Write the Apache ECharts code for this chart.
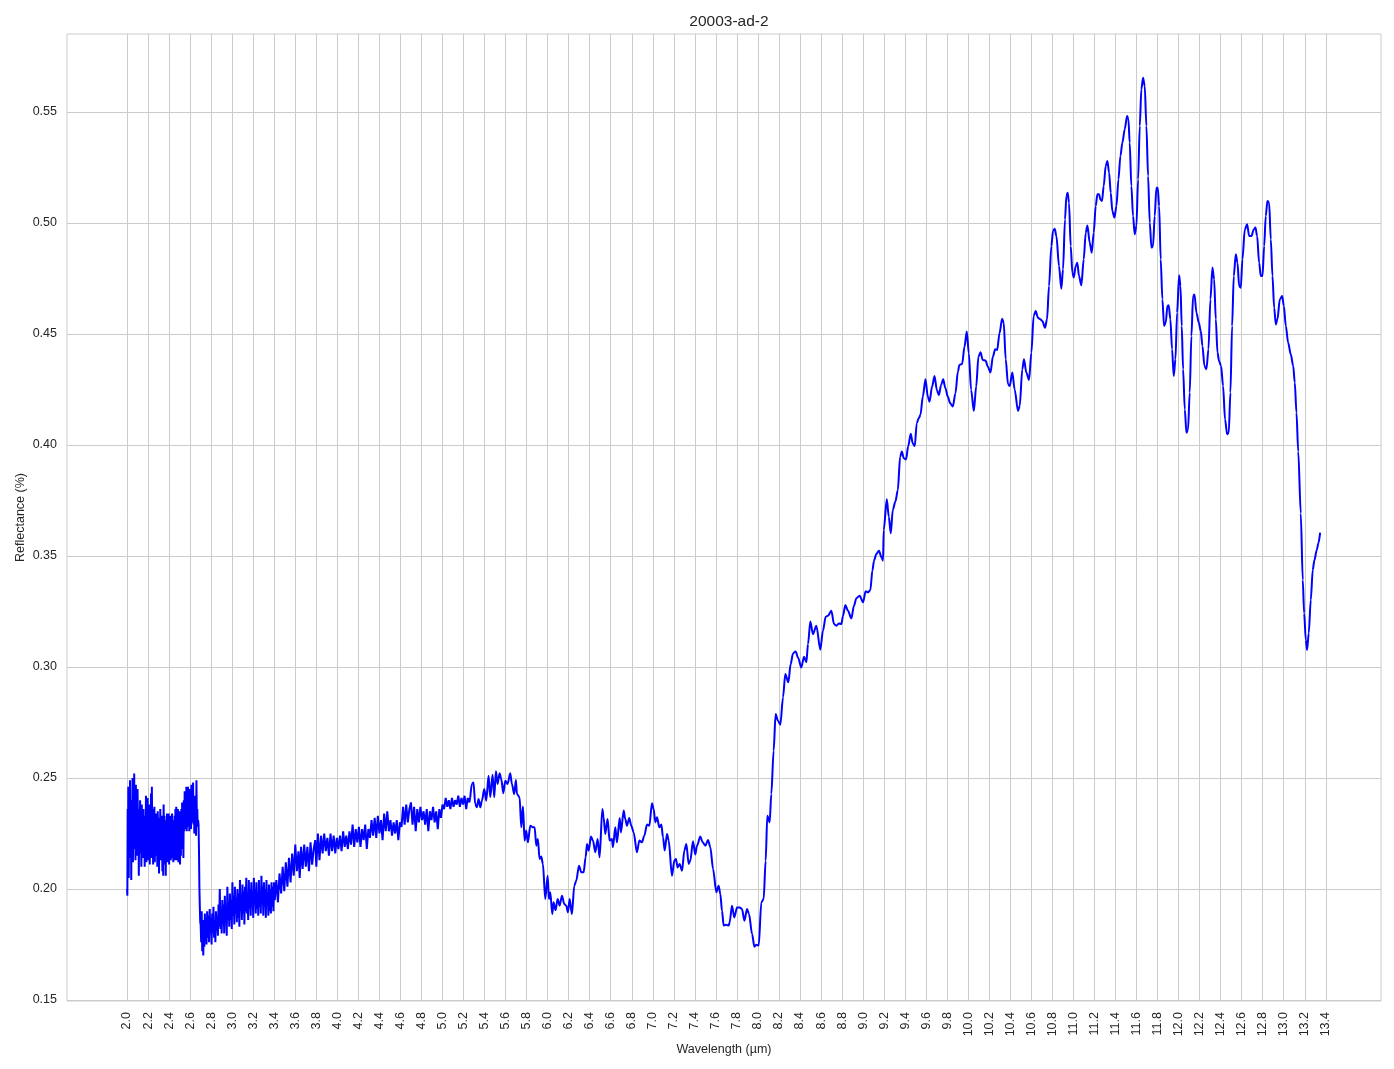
<!DOCTYPE html>
<html>
<head>
<meta charset="utf-8">
<script src="https://cdn.jsdelivr.net/npm/echarts@6/dist/echarts.min.js"></script>
<style>
html,body{margin:0;padding:0;background:#fff;}
#chart{width:1394px;height:1069px;}
</style>
</head>
<body>
<div id="chart"></div>
<script>
// ---- tick labels ----
const xTicks = [2.0,2.2,2.4,2.6,2.8,3.0,3.2,3.4,3.6,3.8,4.0,4.2,4.4,4.6,4.8,5.0,5.2,5.4,5.6,5.8,6.0,6.2,6.4,6.6,6.8,7.0,7.2,7.4,7.6,7.8,8.0,8.2,8.4,8.6,8.8,9.0,9.2,9.4,9.6,9.8,10.0,10.2,10.4,10.6,10.8,11.0,11.2,11.4,11.6,11.8,12.0,12.2,12.4,12.6,12.8,13.0,13.2,13.4];
const yTicks = [0.15,0.20,0.25,0.30,0.35,0.40,0.45,0.50,0.55];

// ---- spectrum: [wavelength µm, reflectance] ----
const noisyHigh = [
[2.000,0.200],[2.003,0.197],[2.006,0.236],[2.009,0.212],[2.012,0.246],[2.016,0.205],[2.020,0.244],[2.024,0.226],[2.028,0.249],[2.032,0.214],
[2.036,0.240],[2.040,0.204],[2.044,0.238],[2.048,0.221],[2.052,0.250],[2.056,0.212],[2.060,0.246],[2.064,0.226],[2.068,0.252],[2.072,0.218],
[2.076,0.243],[2.080,0.213],[2.084,0.247],[2.088,0.222],[2.092,0.240],[2.096,0.215],[2.100,0.245],[2.104,0.228],[2.108,0.236],[2.112,0.206],
[2.116,0.232],[2.120,0.216],[2.124,0.240],[2.128,0.219],[2.132,0.235],[2.136,0.210],[2.140,0.238],[2.144,0.221],[2.148,0.231],[2.152,0.214],
[2.156,0.236],[2.160,0.218],[2.164,0.229],[2.168,0.210],[2.172,0.233],[2.176,0.220],[2.180,0.242],[2.184,0.212],[2.188,0.236],[2.192,0.225],
[2.196,0.241],[2.200,0.213],[2.204,0.234],[2.208,0.222],[2.212,0.238],[2.216,0.211],[2.220,0.231],[2.224,0.218],[2.228,0.243],[2.232,0.214],
[2.236,0.246],[2.240,0.222],[2.244,0.236],[2.248,0.211],[2.252,0.232],[2.256,0.219],[2.260,0.237],[2.264,0.212],[2.268,0.229],[2.272,0.217],
[2.276,0.234],[2.280,0.215],[2.284,0.231],[2.288,0.210],[2.292,0.235],[2.296,0.221],[2.300,0.229],[2.304,0.207],[2.308,0.232],[2.312,0.218],
[2.316,0.236],[2.320,0.213],[2.324,0.228],[2.328,0.216],[2.332,0.233],[2.336,0.208],[2.340,0.230],[2.344,0.206],[2.348,0.238],[2.352,0.219],
[2.356,0.233],[2.360,0.211],[2.364,0.228],[2.368,0.206],[2.372,0.231],[2.376,0.215],[2.380,0.234],[2.384,0.212],[2.388,0.230],[2.392,0.218],
[2.396,0.234],[2.400,0.211],[2.404,0.229],[2.408,0.215],[2.412,0.233],[2.416,0.213],[2.420,0.231],[2.424,0.217],[2.428,0.234],[2.432,0.214],
[2.436,0.227],[2.440,0.212],[2.444,0.231],[2.448,0.216],[2.452,0.233],[2.456,0.213],[2.460,0.236],[2.464,0.219],[2.468,0.237],[2.472,0.213],
[2.476,0.232],[2.480,0.218],[2.484,0.236],[2.488,0.212],[2.492,0.230],[2.496,0.220],[2.500,0.235],[2.504,0.211],[2.508,0.229],[2.512,0.215],
[2.516,0.236],[2.520,0.218],[2.524,0.239],[2.528,0.222],[2.532,0.234],[2.536,0.214],[2.540,0.240],[2.544,0.226],[2.548,0.244],[2.552,0.227],
[2.556,0.242],[2.560,0.229],[2.564,0.246],[2.568,0.226],[2.572,0.240],[2.576,0.228],[2.580,0.246],[2.584,0.230],[2.588,0.243],[2.592,0.226],
[2.596,0.245],[2.600,0.229],[2.604,0.241],[2.608,0.227],[2.612,0.247],[2.616,0.230],[2.620,0.244],[2.624,0.232],[2.628,0.248],[2.632,0.229],
[2.636,0.240],[2.640,0.225],[2.644,0.242],[2.648,0.230],[2.652,0.236],[2.656,0.224],[2.660,0.249],[2.664,0.230],[2.668,0.236],[2.672,0.228],
[2.676,0.231],[2.680,0.229],[2.684,0.218],[2.688,0.201],[2.692,0.192],[2.696,0.185]
];
const noisyLow = [
[2.700,0.184],[2.705,0.176],[2.710,0.190],[2.715,0.172],[2.720,0.186],[2.725,0.170],[2.730,0.183],[2.735,0.174],[2.740,0.189],[2.745,0.177],
[2.750,0.185],[2.756,0.175],[2.762,0.190],[2.768,0.178],[2.774,0.188],[2.780,0.176],[2.786,0.191],[2.792,0.181],[2.798,0.187],[2.804,0.175],
[2.810,0.189],[2.816,0.180],[2.822,0.192],[2.828,0.178],[2.834,0.186],[2.840,0.176],[2.846,0.190],[2.852,0.181],[2.858,0.188],[2.864,0.179],
[2.870,0.193],[2.876,0.183],[2.882,0.200],[2.888,0.182],[2.894,0.191],[2.900,0.180],[2.906,0.195],[2.912,0.184],[2.918,0.193],[2.924,0.180],
[2.930,0.197],[2.936,0.185],[2.942,0.191],[2.948,0.179],[2.954,0.201],[2.960,0.186],[2.966,0.194],[2.972,0.183],[2.978,0.198],[2.984,0.186],
[2.990,0.195],[2.996,0.182],[3.002,0.203],[3.008,0.188],[3.014,0.197],[3.020,0.184],[3.026,0.201],[3.032,0.189],[3.038,0.196],[3.044,0.185],
[3.050,0.200],[3.056,0.187],[3.062,0.198],[3.068,0.183],[3.074,0.204],[3.080,0.190],[3.086,0.197],[3.092,0.186],[3.098,0.202],[3.104,0.189],
[3.110,0.199],[3.116,0.184],[3.122,0.201],[3.128,0.190],[3.134,0.205],[3.140,0.189],[3.146,0.198],[3.152,0.186],[3.158,0.204],[3.164,0.191],
[3.170,0.200],[3.176,0.188],[3.182,0.203],[3.188,0.192],[3.194,0.199],[3.200,0.187],[3.206,0.205],[3.212,0.193],[3.218,0.200],[3.224,0.189],
[3.230,0.203],[3.236,0.191],[3.242,0.198],[3.248,0.188],[3.254,0.204],[3.260,0.192],[3.266,0.199],[3.272,0.189],[3.278,0.206],[3.284,0.193],
[3.290,0.201],[3.296,0.188],[3.302,0.203],[3.308,0.192],[3.314,0.200],[3.320,0.187],[3.326,0.204],[3.332,0.193],[3.338,0.198],[3.344,0.188],
[3.350,0.202],[3.356,0.190],[3.362,0.200],[3.368,0.189],[3.374,0.203],[3.380,0.192],[3.386,0.201],[3.392,0.190],[3.398,0.203]
];
const risingSlope = [
[3.405,0.195],[3.420,0.204],[3.435,0.194],[3.450,0.207],[3.465,0.198],[3.480,0.210],[3.495,0.199],[3.510,0.212],[3.525,0.201],[3.540,0.214],
[3.555,0.203],[3.570,0.216],[3.585,0.206],[3.600,0.220],[3.615,0.208],[3.630,0.217],[3.642,0.205],[3.655,0.219],[3.670,0.209],[3.685,0.220],
[3.700,0.210],[3.715,0.219],[3.730,0.208],[3.745,0.221],[3.760,0.211],[3.775,0.218],[3.790,0.222],[3.800,0.210],[3.815,0.225],[3.830,0.213],
[3.845,0.224],[3.860,0.216],[3.875,0.225],[3.890,0.217],[3.905,0.223],[3.920,0.215],[3.935,0.225],[3.950,0.217],[3.965,0.224],[3.980,0.216],
[3.995,0.223],[4.010,0.218],[4.025,0.224],[4.040,0.217],[4.055,0.226],[4.070,0.219],[4.085,0.224],[4.100,0.218],[4.115,0.226],[4.130,0.220],
[4.145,0.229],[4.160,0.219],[4.175,0.227],[4.190,0.221],[4.205,0.228],[4.220,0.219],[4.235,0.227],[4.250,0.222],[4.265,0.229],[4.280,0.218],
[4.295,0.227],[4.310,0.223],[4.325,0.231],[4.340,0.224],[4.355,0.232],[4.370,0.223],[4.385,0.233],[4.400,0.225],[4.415,0.231],[4.430,0.222],
[4.445,0.234],[4.460,0.226],[4.475,0.235],[4.490,0.226],[4.505,0.231],[4.520,0.224],[4.535,0.230],[4.550,0.225],[4.565,0.231],[4.580,0.222],
[4.595,0.230],[4.610,0.228],[4.625,0.237],[4.640,0.229],[4.655,0.238],[4.670,0.230],[4.685,0.236],[4.700,0.239],[4.715,0.229],[4.730,0.237],
[4.745,0.226],[4.760,0.236],[4.775,0.230],[4.790,0.237],[4.805,0.231],[4.820,0.235],[4.835,0.229],[4.850,0.236],[4.865,0.226],[4.880,0.235],
[4.895,0.231],[4.910,0.237],[4.925,0.230],[4.940,0.235],[4.955,0.227],[4.970,0.236],[4.985,0.232],[5.000,0.238],[5.015,0.236],[5.030,0.241],
[5.045,0.237],[5.060,0.240],[5.075,0.236],[5.090,0.241],[5.105,0.237],[5.120,0.240],[5.135,0.238],[5.150,0.242],[5.165,0.237],[5.180,0.241],
[5.195,0.238],[5.210,0.242],[5.225,0.236],[5.240,0.241],[5.255,0.239],[5.264,0.2413]
];
const midBand = [
[5.264,0.2413],[5.279,0.2473],[5.295,0.2480],[5.311,0.2383],[5.327,0.2368],[5.343,0.2405],[5.359,0.2368],[5.375,0.2398],[5.397,0.2450],[5.416,0.2398],
[5.438,0.2510],[5.454,0.2413],[5.476,0.2515],[5.492,0.2413],[5.508,0.2530],[5.524,0.2473],[5.543,0.2521],[5.559,0.2495],[5.578,0.2431],[5.597,0.2488],
[5.619,0.2473],[5.644,0.2521],[5.660,0.2473],[5.682,0.2428],[5.698,0.2491],[5.708,0.2428],[5.733,0.2413],[5.749,0.2278],[5.765,0.2371],[5.781,0.2218],
[5.796,0.2263],[5.812,0.2210],[5.835,0.2285],[5.860,0.2278],[5.876,0.2278],[5.892,0.2195],[5.907,0.2225],[5.923,0.2135],[5.939,0.2146],[5.955,0.2113],
[5.977,0.1955],[6.000,0.2060],[6.012,0.1955],[6.025,0.1985],[6.044,0.1887],[6.056,0.1940],[6.075,0.1905],[6.095,0.1955],[6.114,0.1925],[6.136,0.1970],
[6.158,0.1932],[6.177,0.1925],[6.193,0.1895],[6.209,0.1955],[6.231,0.1887],[6.253,0.2015],[6.272,0.2037],[6.298,0.2105],[6.320,0.2075],[6.342,0.2075],
[6.361,0.2143],[6.374,0.2203],[6.390,0.2173],[6.412,0.2236],[6.431,0.2218],[6.453,0.2165],[6.475,0.2225],[6.494,0.2143],[6.520,0.2360],[6.532,0.2323],
[6.548,0.2248],[6.570,0.2315],[6.589,0.2218],[6.611,0.2225],[6.621,0.2188],[6.643,0.2278],[6.659,0.2210],[6.685,0.2320],[6.697,0.2255],[6.723,0.2353],
[6.738,0.2315],[6.754,0.2285],[6.776,0.2320],[6.795,0.2285],[6.818,0.2255],[6.849,0.2165],[6.872,0.2218],[6.897,0.2210],[6.919,0.2240],[6.945,0.2290],
[6.967,0.2285],[6.992,0.2386],[7.008,0.2360],[7.024,0.2300],[7.040,0.2323],[7.062,0.2278],[7.081,0.2290],[7.097,0.2233],[7.113,0.2173],[7.135,0.2248],
[7.151,0.2218],[7.182,0.2060],[7.205,0.2128],[7.220,0.2135],[7.236,0.2097],[7.255,0.2113],[7.278,0.2082],[7.300,0.2173],[7.319,0.2203],[7.341,0.2113],
[7.357,0.2128],[7.382,0.2215],[7.404,0.2155],[7.420,0.2195],[7.452,0.2236],[7.474,0.2210],[7.500,0.2195],[7.525,0.2221],[7.547,0.2188],[7.573,0.2090],
[7.604,0.1985],[7.626,0.2015],[7.642,0.1977],[7.658,0.1902],[7.674,0.1835],[7.696,0.1839],[7.721,0.1835],[7.731,0.1850],[7.753,0.1925],[7.775,0.1872],
[7.801,0.1917],[7.826,0.1917],[7.848,0.1910],[7.871,0.1857],[7.896,0.1910],[7.915,0.1887],[7.944,0.1797],[7.966,0.1740],[7.985,0.1749],[8.007,0.1745]
];
const steepRise = [
[8.032,0.1940],[8.054,0.1955],[8.073,0.2127],[8.089,0.2330],[8.111,0.2300],[8.127,0.2428],[8.149,0.2623],[8.168,0.2788],[8.190,0.2758],[8.213,0.2740],
[8.238,0.2863],[8.260,0.2968],[8.289,0.2931],[8.311,0.3013],[8.333,0.3061],[8.358,0.3070],[8.381,0.3043],[8.412,0.2998],[8.438,0.3046],[8.460,0.3021],
[8.476,0.3103],[8.498,0.3205],[8.523,0.3148],[8.555,0.3186],[8.593,0.3078],[8.618,0.3163],[8.644,0.3226],[8.666,0.3231],[8.698,0.3253],[8.723,0.3193],
[8.745,0.3186],[8.771,0.3196],[8.793,0.3193],[8.809,0.3231],[8.831,0.3279],[8.856,0.3253],[8.888,0.3219],[8.913,0.3276],[8.936,0.3310],[8.967,0.3321],
[8.999,0.3291],[9.024,0.3341],[9.047,0.3336],[9.069,0.3347],[9.088,0.3434],[9.104,0.3479],[9.126,0.3509],[9.151,0.3524],[9.174,0.3494],[9.189,0.3479]
];
const upperPlateau = [
[9.196,0.3617],[9.225,0.3755],[9.244,0.3677],[9.263,0.3602],[9.282,0.3707],[9.307,0.3745],[9.330,0.3797],[9.352,0.3947],[9.368,0.3970],[9.387,0.3940],
[9.409,0.3935],[9.428,0.3993],[9.453,0.4050],[9.472,0.4007],[9.491,0.3995],[9.510,0.4098],[9.529,0.4120],[9.545,0.4135],[9.568,0.4218],[9.593,0.4296],
[9.615,0.4218],[9.631,0.4195],[9.656,0.4263],[9.679,0.4311],[9.701,0.4248],[9.720,0.4225],[9.742,0.4270],[9.761,0.4296],[9.783,0.4255],[9.805,0.4218],
[9.828,0.4188],[9.853,0.4173],[9.878,0.4233],[9.901,0.4330],[9.916,0.4360],[9.942,0.4365],[9.964,0.4443],[9.986,0.4511],[10.005,0.4413],[10.027,0.4248],
[10.053,0.4153],[10.075,0.4263],[10.097,0.4398],[10.116,0.4417],[10.138,0.4383],[10.164,0.4380],[10.186,0.4353],[10.211,0.4326],[10.234,0.4398],[10.256,0.4431],
[10.275,0.4428],[10.297,0.4503],[10.322,0.4568],[10.337,0.4551],[10.356,0.4386],[10.378,0.4273],[10.394,0.4266],[10.419,0.4326],[10.441,0.4250],[10.473,0.4153],
[10.489,0.4175],[10.514,0.4341],[10.530,0.4386],[10.552,0.4326],[10.578,0.4293],[10.600,0.4416],[10.622,0.4581],[10.641,0.4603],[10.663,0.4573],[10.685,0.4566],
[10.704,0.4558],[10.730,0.4528],[10.749,0.4566],[10.768,0.4716],[10.790,0.4896],[10.806,0.4964],[10.822,0.4974],[10.838,0.4941],[10.863,0.4806],[10.885,0.4704],
[10.901,0.4791],[10.920,0.5016],[10.933,0.5121],[10.945,0.5136],[10.958,0.5091],[10.974,0.4896],[10.990,0.4776],[11.003,0.4754],[11.022,0.4806],[11.037,0.4821],
[11.053,0.4761],[11.075,0.4719],[11.098,0.4836],[11.117,0.4956],[11.133,0.4989],[11.155,0.4911],[11.174,0.4866],[11.193,0.4956],[11.212,0.5076],[11.228,0.5129],
[11.244,0.5129],[11.256,0.5106],[11.272,0.5099],[11.288,0.5166],[11.307,0.5257],[11.323,0.5279],[11.339,0.5227],[11.355,0.5136],[11.370,0.5054],[11.390,0.5024]
];
const peakRegion = [
[11.409,0.5076],[11.428,0.5196],[11.447,0.5302],[11.466,0.5362],[11.488,0.5422],[11.510,0.5482],[11.523,0.5467],[11.535,0.5362],[11.551,0.5166],[11.567,0.5031],
[11.583,0.4949],[11.599,0.4986],[11.615,0.5196],[11.631,0.5437],[11.646,0.5602],[11.662,0.5654],[11.678,0.5617],[11.694,0.5437],[11.710,0.5211],[11.726,0.5001],
[11.742,0.4889],[11.757,0.4896],[11.773,0.5031],[11.789,0.5159],[11.802,0.5159],[11.815,0.5076],[11.830,0.4836],[11.846,0.4656],[11.862,0.4536],[11.878,0.4551],
[11.894,0.4626],[11.906,0.4629],[11.922,0.4566],[11.938,0.4431],[11.954,0.4311],[11.970,0.4386],[11.986,0.4596],[12.005,0.4764],[12.018,0.4716],[12.030,0.4536],
[12.043,0.4341],[12.059,0.4160],[12.075,0.4055],[12.090,0.4070],[12.106,0.4236],[12.122,0.4491],[12.138,0.4671],[12.151,0.4678],[12.170,0.4596],[12.192,0.4551],
[12.211,0.4513],[12.227,0.4446],[12.246,0.4356],[12.265,0.4341],[12.284,0.4431],[12.303,0.4656],[12.322,0.4799],[12.338,0.4746],[12.354,0.4566],[12.370,0.4416],
[12.385,0.4378],[12.404,0.4356],[12.423,0.4266],[12.442,0.4115],[12.462,0.4048],[12.477,0.4055],[12.493,0.4236],[12.509,0.4536],[12.525,0.4761],[12.544,0.4859],
[12.560,0.4821],[12.576,0.4716],[12.592,0.4708],[12.607,0.4836],[12.630,0.4971],[12.652,0.4994],[12.671,0.4941],[12.693,0.4941],[12.715,0.4971],[12.731,0.4979],
[12.747,0.4941],[12.766,0.4821],[12.782,0.4761],[12.798,0.4761],[12.814,0.4896],[12.829,0.5031],[12.845,0.5099],[12.861,0.5091],[12.877,0.4926],[12.893,0.4761],
[12.909,0.4618],[12.925,0.4543],[12.940,0.4566],[12.963,0.4656],[12.985,0.4671],[13.001,0.4626],[13.020,0.4536],[13.042,0.4461],[13.067,0.4408],[13.090,0.4356]
];
const finalDrop = [
[13.105,0.4281],[13.121,0.4146],[13.138,0.3970],[13.162,0.3692],[13.181,0.3392],[13.194,0.3242],[13.210,0.3122],[13.222,0.3077],[13.238,0.3152],[13.257,0.3302],
[13.276,0.3437],[13.292,0.3482],[13.314,0.3527],[13.330,0.3557],[13.346,0.3605]
];

const noisyPart = noisyHigh.concat(noisyLow, risingSlope);
const smoothPart = midBand.concat(steepRise, upperPlateau, peakRegion, finalDrop);

const txt = '#262626';
const gridCol = '#cccccc';
const font = '"Liberation Sans", Arial, sans-serif';

const chart = echarts.init(document.getElementById('chart'), null, {renderer: 'canvas'});
chart.setOption({
  animation: false,
  backgroundColor: '#ffffff',
  title: {
    text: '20003-ad-2',
    left: 724, top: 9, textAlign: 'center',
    textStyle: {fontFamily: font, fontSize: 15.5, fontWeight: 'normal', color: txt}
  },
  grid: {left: 67, right: 13, top: 34, bottom: 68, show: true, borderColor: gridCol, borderWidth: 1, containLabel: false},
  xAxis: {
    type: 'value', min: 1.429, max: 13.925,
    name: 'Wavelength (µm)', nameLocation: 'middle', nameGap: 42, nameMoveOverlap: false,
    nameTextStyle: {fontFamily: font, fontSize: 12.5, color: txt},
    axisLine: {show: false},
    axisTick: {show: false, customValues: xTicks},
    axisLabel: {customValues: xTicks, rotate: 90, margin: 11, fontFamily: font, fontSize: 12.5, color: txt,
      formatter: v => v.toFixed(1)},
    splitLine: {show: true, lineStyle: {color: gridCol, width: 1}}
  },
  yAxis: {
    type: 'value', min: 0.14955, max: 0.5851,
    name: 'Reflectance (%)', nameLocation: 'middle', nameGap: 40, nameMoveOverlap: false,
    nameTextStyle: {fontFamily: font, fontSize: 12.5, color: txt},
    axisLine: {show: false},
    axisTick: {show: false, customValues: yTicks},
    axisLabel: {customValues: yTicks, margin: 10, fontFamily: font, fontSize: 12.5, color: txt,
      formatter: v => v.toFixed(2)},
    splitLine: {show: true, lineStyle: {color: gridCol, width: 1}}
  },
  series: [
    {type: 'line', data: noisyPart, showSymbol: false, symbol: 'none', smooth: false, sampling: null,
     lineStyle: {color: '#0000ff', width: 2}, z: 3},
    {type: 'line', data: smoothPart, showSymbol: false, symbol: 'none', smooth: 0.3, smoothMonotone: 'x',
     lineStyle: {color: '#0000ff', width: 2}, z: 3}
  ]
});
</script>
</body>
</html>
